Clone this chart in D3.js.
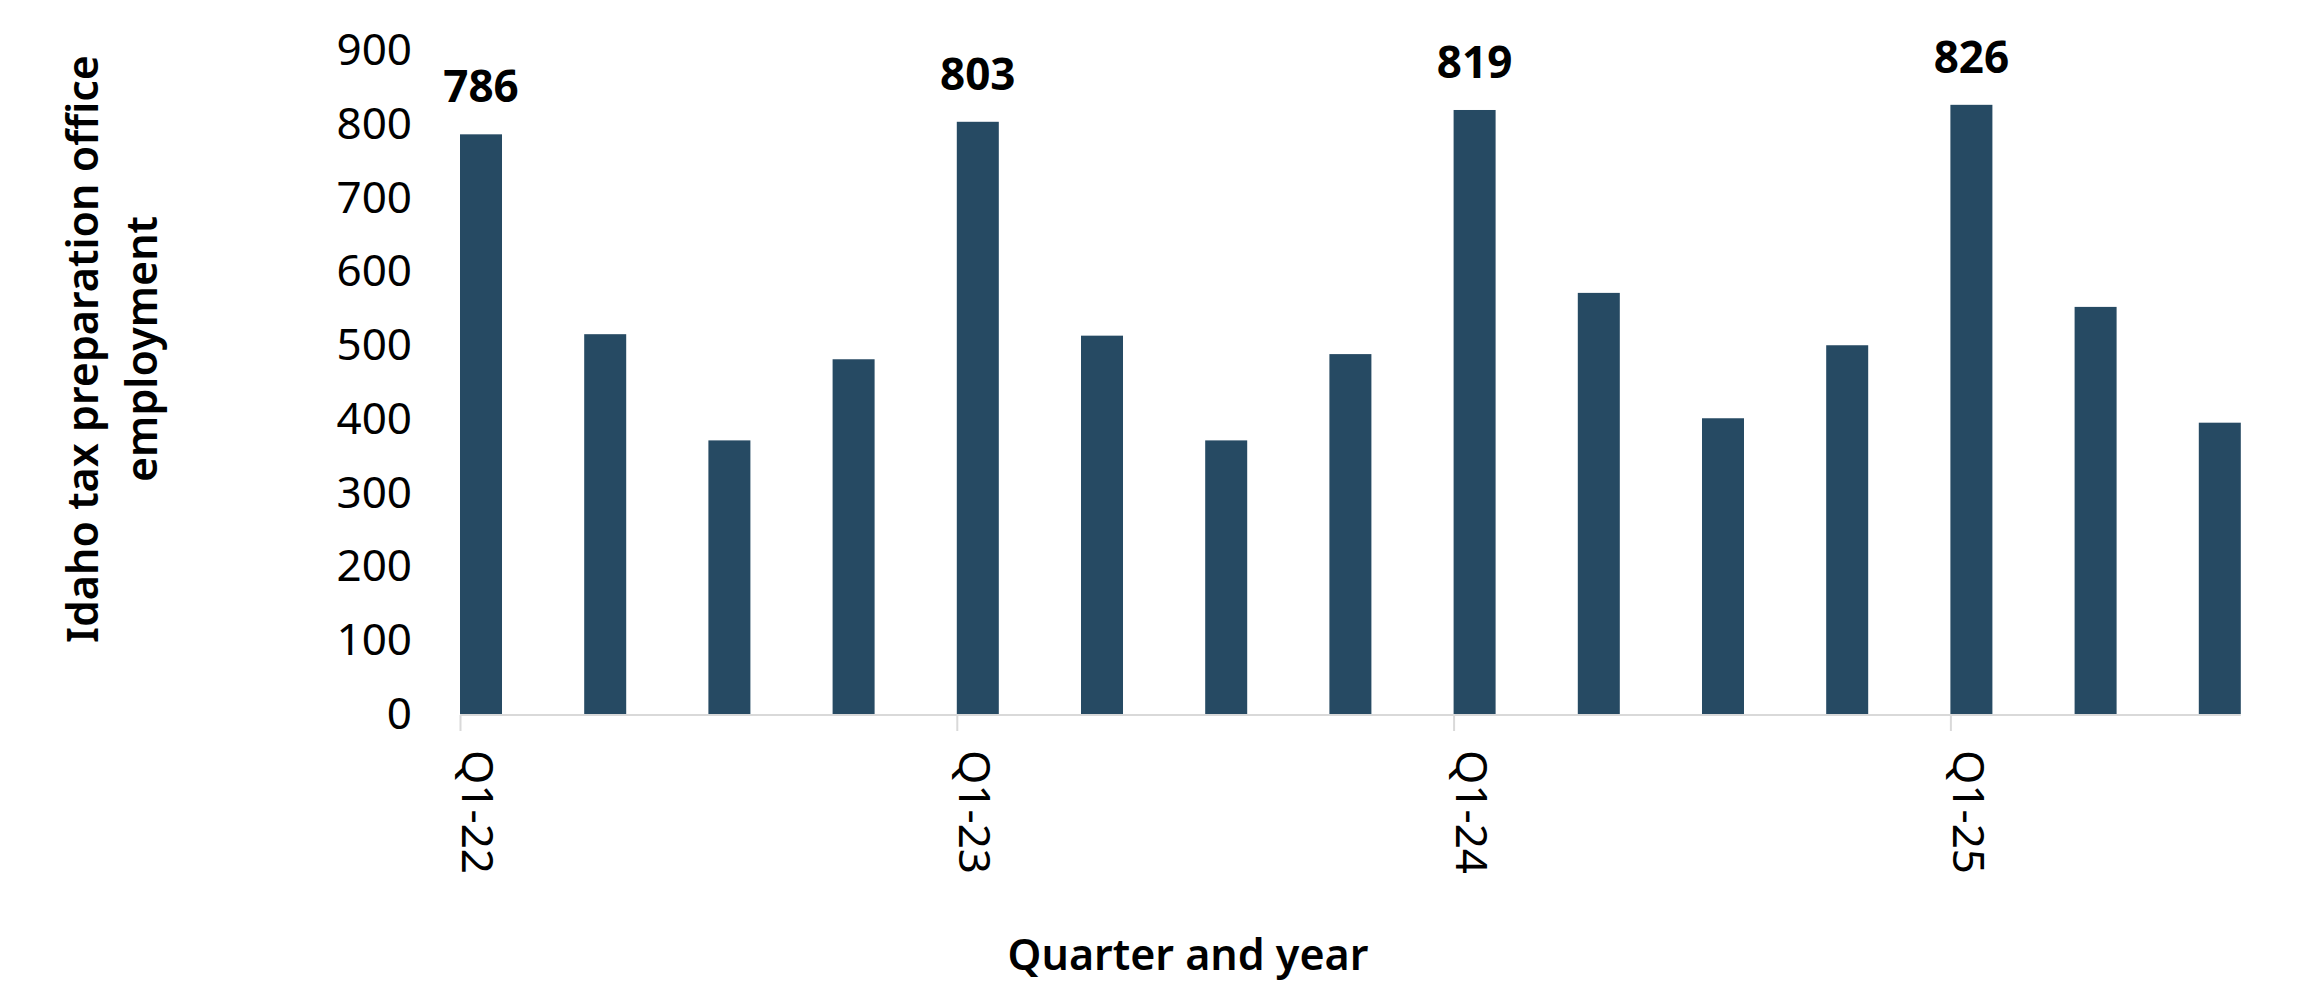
<!DOCTYPE html>
<html>
<head>
<meta charset="utf-8">
<script src="https://cdn.jsdelivr.net/npm/d3@7"></script>
<style>
  html, body { margin: 0; padding: 0; background: #ffffff; }
  svg { display: block; }
  text { font-family: "Noto Sans", "Open Sans", sans-serif; fill: #000; }
</style>
</head>
<body>
<svg id="chart" width="2310" height="990"></svg>
<script>
// ---- Data ----
const categories = ["Q1-22","Q2-22","Q3-22","Q4-22","Q1-23","Q2-23","Q3-23","Q4-23",
                    "Q1-24","Q2-24","Q3-24","Q4-24","Q1-25","Q2-25","Q3-25"];
const employment = [786, 515, 371, 481, 803, 513, 371, 488, 819, 571, 401, 500, 826, 552, 395];
const yTicks = [0, 100, 200, 300, 400, 500, 600, 700, 800, 900];
const labeledCategories = ["Q1-22","Q1-23","Q1-24","Q1-25"];
const yTitleLines = ["Idaho tax preparation office", "employment"];
const xTitle = "Quarter and year";

// ---- Layout ----
const svg = d3.select("#chart");
const barColor = "#264a63";
const axisColor = "#d9d9d9";

const x = d3.scaleBand()
  .domain(categories)
  .range([460, 2240.8])
  .paddingInner(0.6618)
  .paddingOuter(0)
  .align(0);

const y = d3.scaleLinear().domain([0, 900]).range([714, 50.25]);

// Bars
svg.append("g").selectAll("rect")
  .data(categories.map((c, i) => ({c, v: employment[i]})))
  .join("rect")
  .attr("x", d => x(d.c))
  .attr("y", d => y(d.v))
  .attr("width", x.bandwidth())
  .attr("height", d => y(0) - y(d.v))
  .attr("fill", barColor);

// X axis line
const xAxisG = svg.append("g");
xAxisG.append("line")
  .attr("x1", x.range()[0]).attr("x2", x.range()[1])
  .attr("y1", y(0) + 1).attr("y2", y(0) + 1)
  .attr("stroke", axisColor).attr("stroke-width", 2);

// Tick marks at Q1 categories
xAxisG.selectAll("line.tick")
  .data(labeledCategories)
  .join("line")
  .attr("class", "tick")
  .attr("x1", d => x(d) + 0.5).attr("x2", d => x(d) + 0.5)
  .attr("y1", y(0) + 1).attr("y2", y(0) + 17)
  .attr("stroke", axisColor).attr("stroke-width", 2);

// X tick labels (rotated)
xAxisG.selectAll("text.xlabel")
  .data(labeledCategories)
  .join("text")
  .attr("class", "xlabel")
  .attr("transform", d => `translate(${x(d) + x.bandwidth() / 2 - 3},${y(0) + 36}) rotate(90)`)
  .attr("dy", "0.36em")
  .attr("text-anchor", "start")
  .style("font-size", "44px")
  .text(d => d);

// Y tick labels
svg.append("g").selectAll("text")
  .data(yTicks)
  .join("text")
  .attr("x", 412)
  .attr("y", d => y(d))
  .attr("dy", "0.34em")
  .attr("text-anchor", "end")
  .style("font-size", "44px")
  .text(d => d);

// Data labels for Q1 bars
svg.append("g").selectAll("text")
  .data(categories.map((c, i) => ({c, v: employment[i]})).filter(d => labeledCategories.includes(d.c)))
  .join("text")
  .attr("x", d => x(d.c) + x.bandwidth() / 2)
  .attr("y", d => y(d.v) - 32)
  .attr("text-anchor", "middle")
  .style("font-size", "44px")
  .style("font-weight", "700")
  .text(d => d.v);

// Y axis title
const yTitle = svg.append("text")
  .attr("transform", "translate(0,349) rotate(-90)")
  .attr("text-anchor", "middle")
  .style("font-size", "43px")
  .style("font-weight", "600");
yTitle.selectAll("tspan")
  .data(yTitleLines)
  .join("tspan")
  .attr("x", 0)
  .attr("y", (d, i) => i === 0 ? 98 : 157)
  .text(d => d);

// X axis title
svg.append("text")
  .attr("x", 1188)
  .attr("y", 970)
  .attr("text-anchor", "middle")
  .style("font-size", "43px")
  .style("font-weight", "600")
  .text(xTitle);
</script>
</body>
</html>
